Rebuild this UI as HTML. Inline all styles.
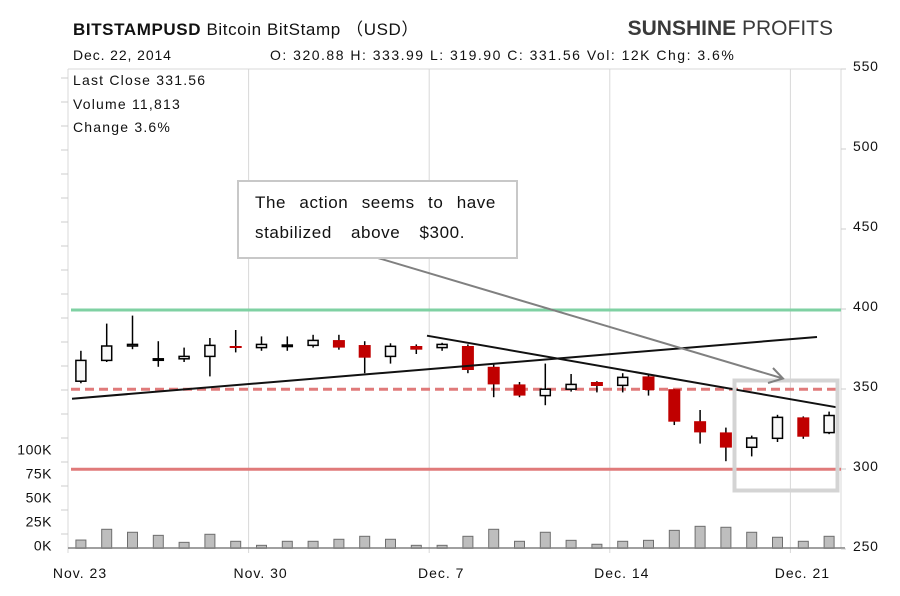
<!DOCTYPE html>
<html><head><meta charset="utf-8"><style>
html,body{margin:0;padding:0;background:#fff;}
svg{display:block;font-family:"Liberation Sans",Arial,sans-serif;}
</style></head><body>
<svg id="chart" width="900" height="596" viewBox="0 0 900 596">
<g>
<text x="73" y="35" font-size="17" fill="#111" letter-spacing="0.6"><tspan font-weight="bold">BITSTAMPUSD</tspan> Bitcoin  BitStamp （USD）</text>
<text x="73" y="60" font-size="14" fill="#111" letter-spacing="0.9">Dec. 22, 2014</text>
<text x="270" y="60" font-size="14" fill="#111" letter-spacing="1.5">O: 320.88  H: 333.99  L: 319.90  C: 331.56  Vol: 12K  Chg: 3.6%</text>
<text x="833" y="35" font-size="21" text-anchor="end" fill="#3a3a3a"><tspan font-weight="bold">SUNSHINE</tspan> PROFITS</text>
</g>
<g id="grid"></g>
<g>
<text x="73" y="85" font-size="14" fill="#111" letter-spacing="1.2">Last Close  331.56</text>
<text x="73" y="109" font-size="14" fill="#111" letter-spacing="1.2">Volume  11,813</text>
<text x="73" y="132" font-size="14" fill="#111" letter-spacing="1.2">Change  3.6%</text>
</g>
<g id="vols"></g>
<g id="levels"></g>
<g id="candles"></g>
<g>
<line x1="72" y1="398.7" x2="817" y2="337" stroke="#111" stroke-width="2"/>
<line x1="427" y1="335.7" x2="839" y2="407.7" stroke="#111" stroke-width="2"/>
<rect x="734.5" y="380.5" width="103" height="110" fill="none" stroke="#d4d4d4" stroke-width="4"/>
<line x1="378" y1="258" x2="783" y2="378.5" stroke="#808080" stroke-width="2"/>
<polyline points="773,368 783,378.5 768,383" fill="none" stroke="#808080" stroke-width="2"/>
<rect x="238" y="181" width="279" height="77" fill="#fff" stroke="#c8c8c8" stroke-width="2"/>
<text class="just" data-r="496" y="208" font-size="17" fill="#111" letter-spacing="0.6"><tspan x="255">The</tspan><tspan x="300">action</tspan><tspan x="360">seems</tspan><tspan x="420">to</tspan><tspan x="455">have</tspan></text>
<text class="just" data-r="465" y="238" font-size="17" fill="#111" letter-spacing="0.6"><tspan x="254">stabilized</tspan><tspan x="337">above</tspan><tspan x="409">$300.</tspan></text>
</g>
<g id="axes"></g>
</svg>
<script>
const priceTicks=[250,300,350,400,450,500,550];
const volTicks=[0,25,50,75,100];
const volTickLabels=["0K","25K","50K","75K","100K"];
const dateLabels=["Nov. 23","Nov. 30","Dec. 7","Dec. 14","Dec. 21"];
const dateDayIdx=[0,7,14,21,28];
const opens =[353,366,375,367,367,368.5,375,374,375,375.4,378.7,375.6,368.5,375,374,375,362,351,344,348,352.5,350.4,356,348,328,321,311.7,317.3,330.4,320.88];
const highs =[372,389,394,378,374,380,385,381,381,382,382,378,376.7,376,377,376,364,352.5,364,357.5,353,358,357,348,335,324,319,332,331,333.99];
const lows  =[351.7,365,373,362,365,356,371,372,372,374,372.7,358,364,370,372,358,343,343,338,346.5,346,346,344,325.6,314,303,306,315,317,319.9];
const closes=[366,375,376,367,368.5,375.4,374,376,375.6,378.5,374,367.7,374.8,372.7,376,360,351,344,348,351,350,355.4,347.5,327.7,321,311.5,317.5,330.4,318.3,331.56];
const volumes=[8.6,19.8,16.7,13.5,6.2,14.6,7.3,3.1,7.3,7.3,9.4,12.5,9.4,3.1,3.1,12.5,19.8,7.3,16.7,8.3,4.2,7.3,8.3,18.7,22.9,21.9,16.7,11.5,7.3,12.5];
const levelPrices=[397.5,348,298];
const NS='http://www.w3.org/2000/svg';
const X0=68,DAY=25.8,PL=68,PR=841,PT=69,PB=548;
const xDay=d=>X0+DAY*d;
const xC=i=>X0+DAY*(i+0.5);
const yP=p=>546-(p-250)*1.6;
const yV=v=>548.3-v*0.96;
function mk(tag,attrs,parent){const e=document.createElementNS(NS,tag);for(const k in attrs)e.setAttribute(k,attrs[k]);parent.appendChild(e);return e;}
document.querySelectorAll('text.just').forEach(t=>{const sp=[...t.querySelectorAll('tspan')];
 const w=sp.map(s=>s.getComputedTextLength());const tot=w.reduce((a,b)=>a+b,0);
 const L=255,R=+t.getAttribute('data-r'),gap=(R-L-tot)/(sp.length-1);let x=L;
 sp.forEach((s,i)=>{s.setAttribute('x',x.toFixed(1));x+=w[i]+gap;});});
const grid=document.getElementById('grid'),axes=document.getElementById('axes');
let fr=mk('line',{x1:PL,y1:PT,x2:845,y2:PT,stroke:'#d8d8d8','stroke-width':1},grid);


fr=mk('line',{x1:PL,y1:PT,x2:PL,y2:PB+5,stroke:'#d8d8d8','stroke-width':1},grid);


fr=mk('line',{x1:PR,y1:PT,x2:PR,y2:PB,stroke:'#d8d8d8','stroke-width':1},grid);


fr=mk('line',{x1:PL,y1:PB,x2:PR+4,y2:PB,stroke:'#808080','stroke-width':1.5},axes);


for(let k=0;k<20;k++){const y=PT+9+24*k;if(y>PB)break;
 const t=mk('line',{x1:61,y1:y,x2:PL,y2:y,stroke:'#ccc','stroke-width':1},grid);
 
 }
dateLabels.forEach((lab,i)=>{const x=xDay(dateDayIdx[i]);
 if(i>0){const g=mk('line',{x1:x,y1:PT,x2:x,y2:PB+5,stroke:'#d8d8d8','stroke-width':1},grid);
 
 }
 const t=mk('text',{x:x+12,y:578,'font-size':14,fill:'#111','text-anchor':'middle','letter-spacing':'1'},axes);
 t.textContent=lab;
 
 });
priceTicks.forEach(p=>{const y=yP(p);
 const tk=mk('line',{x1:PR,y1:y+3,x2:846,y2:y+3,stroke:'#ccc','stroke-width':1},axes);
 
 
 const t=mk('text',{x:853,y:y+5,'font-size':14,fill:'#111','letter-spacing':'0.8'},axes);
 t.textContent=p;
 
 });
volTicks.forEach((v,i)=>{const t=mk('text',{x:52,y:yV(v)+2,'font-size':14,fill:'#111','text-anchor':'end','letter-spacing':'0.5'},axes);
 t.textContent=volTickLabels[i];
 
 });
const vg=document.getElementById('vols');
volumes.forEach((v,i)=>{const y=yV(v);
 const r=mk('rect',{x:xC(i)-5,y:y,width:10,height:548.3-y,fill:'#bebebe',stroke:'#6e6e6e','stroke-width':1},vg);
 
 });
const lg=document.getElementById('levels');
const levStyles=[{stroke:'#7fd1a3','stroke-width':3},{stroke:'#e07a7a','stroke-width':3,'stroke-dasharray':'9,5'},{stroke:'#e07a7a','stroke-width':3}];
const levNames=['resistance-400-line','support-350-dashed-line','support-300-line'];
levelPrices.forEach((p,i)=>{const a=Object.assign({x1:71,y1:yP(p),x2:841,y2:yP(p)},levStyles[i]);
 const l=mk('line',a,lg);
 
 });
const cg=document.getElementById('candles');
opens.forEach((o,i)=>{const c=closes[i],x=xC(i),up=c>=o;
 const g=mk('g',{},cg);
 
 
 mk('line',{x1:x,y1:yP(highs[i]),x2:x,y2:yP(lows[i]),stroke:'#000','stroke-width':1.5},g);
 const top=yP(Math.max(o,c)),bot=yP(Math.min(o,c));
 if(up) mk('rect',{x:x-5,y:top,width:10,height:Math.max(bot-top,1.5),fill:'#f8f8f8',stroke:'#000','stroke-width':1.5},g);
 else mk('rect',{x:x-6,y:top,width:12,height:Math.max(bot-top,2),fill:'#c00000'},g);});
</script>
</body></html>
